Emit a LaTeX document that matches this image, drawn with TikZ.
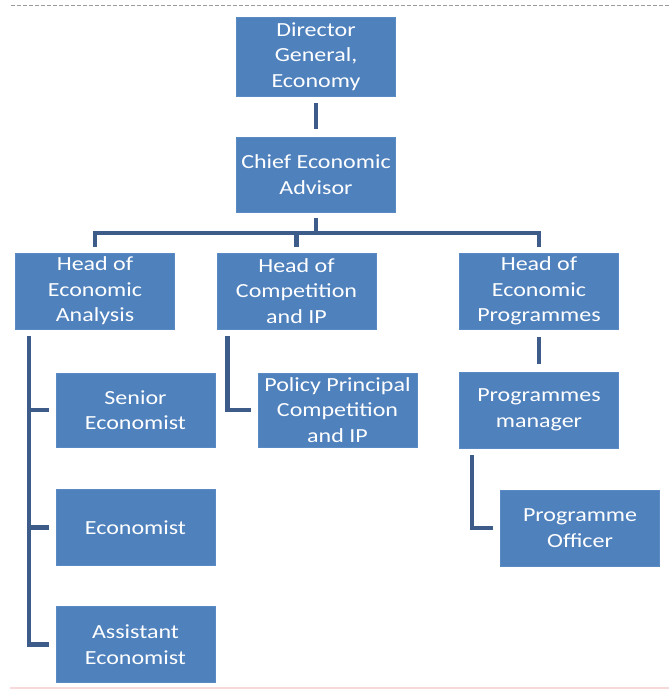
\documentclass[tikz,border=0pt]{standalone}
\usepackage{fontspec}
\setmainfont[FakeStretch=1.2]{Carlito}
\definecolor{boxblue}{HTML}{4F81BD}
\definecolor{boxedge}{HTML}{5A8AC4}
\definecolor{linkblue}{HTML}{3D5C8A}
\definecolor{dashgray}{HTML}{9A9A9A}
\definecolor{pinkline}{HTML}{F6D9D9}
\begin{document}
\begin{tikzpicture}[x=1pt,y=-1pt,
  orgbox/.style={rectangle, fill=boxblue, draw=boxedge, line width=0.6pt, text=white,
    align=center, inner sep=0pt, minimum width=159pt, minimum height=76pt,
    font=\fontsize{20}{25.5}\selectfont},
  link/.style={draw=linkblue, line width=4.5pt},
  rule/.style={line width=1pt}]
\useasboundingbox (0,0) rectangle (669,693);
\fill[white] (0,0) rectangle (669,693);

% page rules
\coordinate (tl) at (11,6);
\coordinate (tr) at (669,6);
\coordinate (bl) at (10,688);
\coordinate (br) at (669,688);
\draw[rule, dashgray, dash pattern=on 4pt off 2pt] (tl) -- (tr);
\draw[pinkline, line width=2pt] (bl) -- (br);

% boxes
\node[orgbox, minimum height=79pt] (dg) at (316,56.5) {Director\\General,\\Economy};
\node[orgbox, minimum height=75pt] (cea) at (316,174.5) {Chief Economic\\Advisor};
\node[orgbox] (hea) at (95,291) {Head of\\Economic\\Analysis};
\node[orgbox] (hcip) at (296.5,291) {Head of\\Competition\\and IP};
\node[orgbox] (hep) at (539,291) {Head of\\Economic\\Programmes};
\node[orgbox, minimum height=74pt] (se) at (135.5,410) {Senior\\Economist};
\node[orgbox, minimum height=74pt] (pp) at (337.5,410) {Policy Principal\\Competition\\and IP};
\node[orgbox] (pm) at (539,410) {Programmes\\manager};
\node[orgbox] (eco) at (135.5,527.5) {Economist};
\node[orgbox] (po) at (580,528) {Programme\\Officer};
\node[orgbox] (ae) at (135.5,644.5) {Assistant\\Economist};

% connectors
\coordinate (bus) at (316,233);
\draw[link, shorten <=7pt, shorten >=8pt] (dg.south) -- (cea.north);
\draw[link, shorten <=6pt] (cea.south) -- (bus);
\draw[link, shorten >=6pt] (bus) -| (hea.north);
\draw[link, shorten >=6pt] (bus) -| (hcip.north);
\draw[link, shorten >=6pt] (bus) -| (hep.north);

\draw[link, shorten <=7pt, shorten >=7pt] ([xshift=14pt]hea.south west) |- (se.west);
\draw[link, shorten <=7pt, shorten >=7pt] ([xshift=14pt]hea.south west) |- (eco.west);
\draw[link, shorten <=7pt, shorten >=7pt] ([xshift=14pt]hea.south west) |- (ae.west);

\draw[link, shorten <=7pt, shorten >=7pt] ([xshift=11pt]hcip.south west) |- (pp.west);

\draw[link, shorten <=8pt, shorten >=8pt] (hep.south) -- (pm.north);
\draw[link, shorten <=7pt, shorten >=7pt] ([xshift=13pt]pm.south west) |- (po.west);
\end{tikzpicture}
\end{document}
